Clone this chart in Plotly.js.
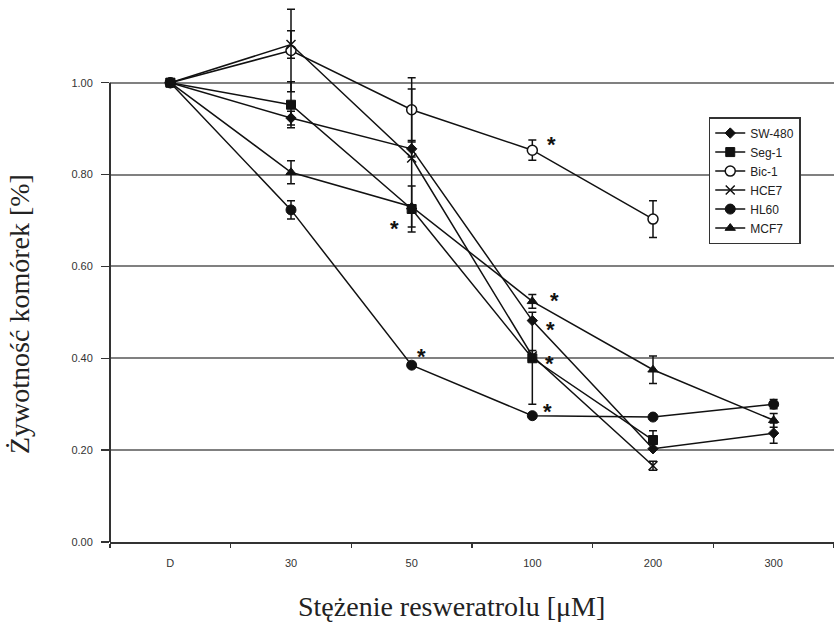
<!DOCTYPE html>
<html>
<head>
<meta charset="utf-8">
<script src="https://cdn.plot.ly/plotly-3.0.1.min.js"></script>
<style>html,body{margin:0;padding:0;background:#fff;}#chart{width:834px;height:629px;}</style>
</head>
<body>
<div id="chart"></div>
<script>
// Categories (resveratrol concentration, µM; D = control)
var categories = ['D', '30', '50', '100', '200', '300'];

// Cell viability per cell line
var sw480 = [1.00, 0.923, 0.856, 0.482, 0.203, 0.237];
var seg1  = [1.00, 0.952, 0.725, 0.400, 0.222, null];
var bic1  = [1.00, 1.070, 0.941, 0.853, 0.703, null];
var hce7  = [1.00, 1.083, 0.836, 0.405, 0.166, null];
var hl60  = [1.00, 0.723, 0.385, 0.275, 0.272, 0.300];
var mcf7  = [1.00, 0.805, 0.730, 0.524, 0.375, 0.265];

// Error bars (± SD)
var sw480Err = [0, 0.015, 0.018, 0, 0, 0.022];
var seg1Err  = [0, 0.050, 0.050, 0.100, 0.020, 0];
var bic1Err  = [0, 0.090, 0.070, 0.022, 0.040, 0];
var hce7Err  = [0, 0.030, 0.150, 0.012, 0.010, 0];
var hl60Err  = [0, 0.020, 0, 0, 0, 0.010];
var mcf7Err  = [0, 0.025, 0, 0.015, 0.030, 0.015];

var seriesNames = ['SW-480', 'Seg-1', 'Bic-1', 'HCE7', 'HL60', 'MCF7'];

// y-axis ticks
var yTicks = [0, 0.2, 0.4, 0.6, 0.8, 1.0];

// Titles
var xTitle = 'Stężenie resweratrolu [μM]';
var yTitle = 'Żywotność komórek [%]';

// Significance marks: [series, category]
var starSeries = ['Bic-1', 'Seg-1', 'HL60', 'MCF7', 'SW-480', 'Seg-1', 'HL60'];
var starCats   = ['100', '50', '50', '100', '100', '100', '100'];

var valuesByName = {'SW-480': sw480, 'Seg-1': seg1, 'Bic-1': bic1, 'HCE7': hce7, 'HL60': hl60, 'MCF7': mcf7};
var errByName = {'SW-480': sw480Err, 'Seg-1': seg1Err, 'Bic-1': bic1Err, 'HCE7': hce7Err, 'HL60': hl60Err, 'MCF7': mcf7Err};

var markerStyles = {
  'SW-480': {symbol: 'diamond', size: 8, color: '#111', line: {color: '#111', width: 1}},
  'Seg-1':  {symbol: 'square', size: 9, color: '#111', line: {color: '#111', width: 1}},
  'Bic-1':  {symbol: 'circle', size: 10, color: '#fff', line: {color: '#111', width: 1.5}},
  'HCE7':   {symbol: 'x-thin', size: 9, color: '#111', line: {color: '#111', width: 1.5}},
  'HL60':   {symbol: 'circle', size: 10, color: '#111', line: {color: '#111', width: 1}},
  'MCF7':   {symbol: 'triangle-up', size: 9, color: '#111', line: {color: '#111', width: 1}}
};

var traces = seriesNames.map(function (name) {
  return {
    type: 'scatter',
    mode: 'lines+markers',
    name: name,
    x: categories,
    y: valuesByName[name],
    connectgaps: false,
    line: {color: '#111', width: 1.5},
    marker: markerStyles[name],
    error_y: {type: 'data', array: errByName[name], visible: true, color: '#111', thickness: 1.5, width: 4},
    cliponaxis: false
  };
});

var starOffsets = [[19, 6], [-17, -20], [10, 9], [22, 1], [18, -9], [17, -5], [15, 4]];
var annotations = starSeries.map(function (s, i) {
  var idx = categories.indexOf(starCats[i]);
  return {
    x: idx, y: valuesByName[s][idx], xref: 'x', yref: 'y',
    text: '<b>*</b>', showarrow: false,
    xshift: starOffsets[i][0], yshift: starOffsets[i][1],
    font: {family: 'Liberation Sans, Arial', size: 22, color: '#111'}
  };
});

// axis titles placed as annotations to match the reference position
annotations.push({
  xref: 'paper', yref: 'paper', x: 0.472, y: -0.119, xanchor: 'center', yanchor: 'middle',
  text: xTitle, showarrow: false,
  font: {family: 'Liberation Serif, Times New Roman, serif', size: 28, color: '#222'}
});
annotations.push({
  xref: 'paper', yref: 'paper', x: -0.124, y: 0.421, xanchor: 'center', yanchor: 'middle',
  text: yTitle, showarrow: false, textangle: -90,
  font: {family: 'Liberation Serif, Times New Roman, serif', size: 28, color: '#222'}
});

var layout = {
  width: 834, height: 629,
  margin: {l: 110, r: 0, t: 0, b: 87},
  paper_bgcolor: '#fff', plot_bgcolor: '#fff',
  showlegend: true,
  legend: {
    x: 0.827, y: 0.784, xanchor: 'left', yanchor: 'top',
    bgcolor: '#fff', bordercolor: '#333', borderwidth: 1.5,
    font: {family: 'Liberation Sans, Arial', size: 12, color: '#222'},
    itemwidth: 30, tracegroupgap: 0
  },
  xaxis: {
    type: 'category',
    categoryorder: 'array', categoryarray: categories,
    range: [-0.5, 5.5],
    showgrid: false, zeroline: false,
    showline: true, linecolor: '#333', linewidth: 2,
    ticks: 'outside', tickson: 'boundaries', ticklen: 4, tickcolor: '#333', tickwidth: 1.5,
    ticklabelstandoff: 10,
    tickfont: {family: 'Liberation Sans, Arial', size: 11, color: '#333'}
  },
  yaxis: {
    range: [0, 1.18],
    tickvals: yTicks, tickformat: '.2f',
    showgrid: true, gridcolor: '#808080', gridwidth: 2,
    zeroline: false, showline: false,
    ticks: 'outside', ticklen: 8, tickcolor: '#333', tickwidth: 1.5,
    ticklabelstandoff: 6,
    tickfont: {family: 'Liberation Sans, Arial', size: 11, color: '#333'}
  },
  shapes: [{
    type: 'line', xref: 'paper', yref: 'y', x0: 0, x1: 0, y0: 0, y1: 1,
    line: {color: '#333', width: 2}, layer: 'above'
  }],
  annotations: annotations
};

Plotly.newPlot('chart', traces, layout, {displayModeBar: false, staticPlot: true});
</script>
</body>
</html>
